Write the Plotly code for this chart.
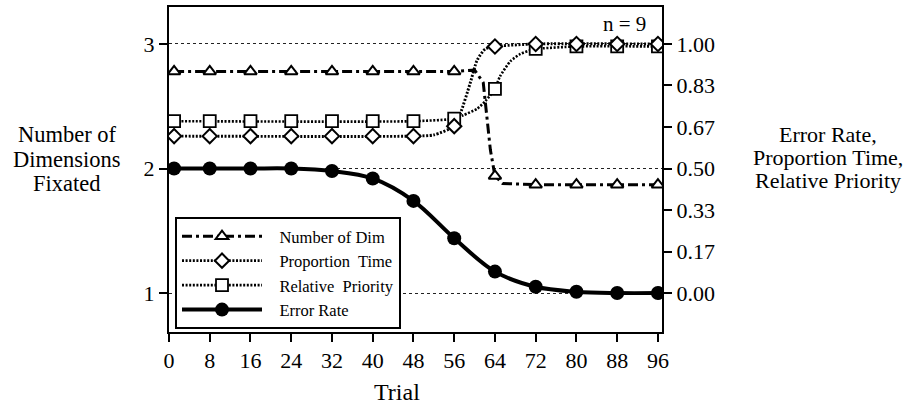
import plotly.graph_objects as go

# ---- data ----
trials = [1, 8, 16, 24, 32, 40, 48, 56, 64, 72, 80, 88, 96]
num_dim = [2.78, 2.78, 2.78, 2.78, 2.78, 2.78, 2.78, 2.78, 1.94, 1.87, 1.87, 1.87, 1.87]
prop_time = [0.63, 0.63, 0.63, 0.63, 0.63, 0.63, 0.63, 0.67, 0.99, 1.00, 1.00, 1.00, 1.00]
rel_priority = [0.69, 0.69, 0.69, 0.69, 0.69, 0.69, 0.69, 0.70, 0.82, 0.98, 0.99, 0.99, 0.99]
error_rate = [0.50, 0.50, 0.50, 0.50, 0.49, 0.46, 0.37, 0.22, 0.086, 0.025, 0.005, 0.0, 0.0]

# fitted curves as drawn in the reference
num_dim_curve_x = [1, 56, 60, 61.7, 63.1, 64, 65.5, 72, 96]
num_dim_curve_y = [2.78, 2.78, 2.79, 2.69, 2.15, 1.94, 1.88, 1.87, 1.87]
prop_curve_x = [1, 48, 52, 56, 57.2, 59.1, 60.5, 62.1, 64, 72, 96]
prop_curve_y = [0.63, 0.63, 0.635, 0.67, 0.72, 0.84, 0.935, 0.98, 0.99, 1.0, 1.0]
rel_curve_x = [1, 48, 56, 57.8, 60.5, 62.1, 64, 65, 67, 69, 71, 72, 80, 96]
rel_curve_y = [0.69, 0.69, 0.70, 0.714, 0.74, 0.77, 0.82, 0.87, 0.93, 0.96, 0.975, 0.98, 0.99, 0.99]

x_ticks = [0, 8, 16, 24, 32, 40, 48, 56, 64, 72, 80, 88, 96]
left_ticks = [1, 2, 3]
right_tickvals = [0, 1/6, 2/6, 3/6, 4/6, 5/6, 1]
right_ticktext = ["0.00", "0.17", "0.33", "0.50", "0.67", "0.83", "1.00"]

series_names = ["Number of Dim", "Proportion  Time", "Relative  Priority", "Error Rate"]
left_title_lines = ["Number of", "Dimensions", "Fixated"]
right_title_lines = ["Error Rate,", "Proportion Time,", "Relative Priority"]
x_title = "Trial"
n_label = "n = 9"

FONT = "Liberation Serif, Times New Roman, serif"
W, H = 909, 412
L, R, T, B = 169, 247, 7, 80
PW, PH = W - L - R, H - T - B

YL = [0.687, 3.297]
YR = [(YL[0] - 1) / 2, (YL[1] - 1) / 2]


def px(xp):
    return (xp - L) / PW


def py(yp):
    return (H - B - yp) / PH


fig = go.Figure()

dashdot = "10px,4px,3px,4px"
dots = "2px,1.6px"

# curves (lines)
fig.add_trace(go.Scatter(x=rel_curve_x, y=rel_curve_y, yaxis="y2", mode="lines",
                         line=dict(color="black", width=2.6, dash=dots, shape="spline", smoothing=0.6),
                         showlegend=False, hoverinfo="skip"))
fig.add_trace(go.Scatter(x=prop_curve_x, y=prop_curve_y, yaxis="y2", mode="lines",
                         line=dict(color="black", width=2.9, dash=dots, shape="spline", smoothing=0.6),
                         showlegend=False, hoverinfo="skip"))
fig.add_trace(go.Scatter(x=num_dim_curve_x, y=num_dim_curve_y, mode="lines",
                         line=dict(color="black", width=3.0, dash=dashdot),
                         showlegend=False, hoverinfo="skip"))
fig.add_trace(go.Scatter(x=trials, y=error_rate, yaxis="y2", mode="lines",
                         line=dict(color="black", width=4.0, shape="spline", smoothing=1.0),
                         showlegend=False, hoverinfo="skip"))

# markers
mk_tri = dict(symbol="triangle-up", size=11, color="white", line=dict(color="black", width=2))
mk_dia = dict(symbol="diamond", size=11, color="white", line=dict(color="black", width=2))
mk_sq = dict(symbol="square", size=12, color="white", line=dict(color="black", width=1.8))
mk_ci = dict(symbol="circle", size=14, color="black", line=dict(color="black", width=0))

fig.add_trace(go.Scatter(x=trials, y=rel_priority, yaxis="y2", mode="markers", marker=mk_sq,
                         showlegend=False))
fig.add_trace(go.Scatter(x=trials, y=prop_time, yaxis="y2", mode="markers", marker=mk_dia,
                         showlegend=False))
fig.add_trace(go.Scatter(x=trials, y=num_dim, mode="markers", marker=mk_tri, showlegend=False))
fig.add_trace(go.Scatter(x=trials, y=error_rate, yaxis="y2", mode="markers", marker=mk_ci,
                         showlegend=False))

# legend entries
leg_styles = [
    (dict(color="black", width=3.0, dash=dashdot), mk_tri),
    (dict(color="black", width=2.9, dash=dots), mk_dia),
    (dict(color="black", width=2.6, dash=dots), mk_sq),
    (dict(color="black", width=4.0), mk_ci),
]
pad = "\u00a0\u00a0\u00a0"
for name, (ln, mk) in zip(series_names, leg_styles):
    fig.add_trace(go.Scatter(x=[None], y=[None], mode="lines+markers", name=pad + name,
                             line=ln, marker=mk, showlegend=True))

annotations = []
for txt, yc in zip(left_title_lines, [134, 159, 183]):
    annotations.append(dict(x=px(67), y=py(yc), xref="paper", yref="paper", text=txt,
                            showarrow=False, xanchor="center", yanchor="middle",
                            font=dict(family=FONT, size=22.5, color="black")))
for txt, yc in zip(right_title_lines, [134, 157, 180]):
    annotations.append(dict(x=px(828), y=py(yc), xref="paper", yref="paper", text=txt,
                            showarrow=False, xanchor="center", yanchor="middle",
                            font=dict(family=FONT, size=22, color="black")))
annotations.append(dict(x=px(397), y=py(392), xref="paper", yref="paper", text=x_title,
                        showarrow=False, xanchor="center", yanchor="middle",
                        font=dict(family=FONT, size=24, color="black")))
annotations.append(dict(x=px(624), y=py(24), xref="paper", yref="paper", text=n_label,
                        showarrow=False, xanchor="center", yanchor="middle",
                        font=dict(family=FONT, size=21, color="black")))

fig.update_layout(
    width=W, height=H,
    margin=dict(l=L, r=R, t=T, b=B, autoexpand=False),
    paper_bgcolor="white", plot_bgcolor="white",
    font=dict(family=FONT, size=22, color="black"),
    showlegend=True,
    legend=dict(x=px(175), y=py(217), xanchor="left", yanchor="top",
                bgcolor="white", bordercolor="black", borderwidth=2,
                font=dict(family=FONT, size=16.5, color="black"),
                itemwidth=80, tracegroupgap=0),
    xaxis=dict(range=[0, 96.8], tickvals=x_ticks, ticks="outside", ticklen=8, tickwidth=1.8,
               tickcolor="black", showline=True, linecolor="black", linewidth=2, mirror=True,
               showgrid=False, zeroline=False, tickfont=dict(family=FONT, size=22)),
    yaxis=dict(range=YL, tickvals=left_ticks, ticks="outside", ticklen=8, tickwidth=1.8,
               tickcolor="black", showline=True, linecolor="black", linewidth=2, mirror=True,
               showgrid=True, gridcolor="#222", gridwidth=1, griddash="dot",
               zeroline=False, tickfont=dict(family=FONT, size=22)),
    yaxis2=dict(range=YR, overlaying="y", side="right", tickvals=right_tickvals,
                ticktext=right_ticktext, ticks="outside", ticklen=8, tickwidth=1.8,
                tickcolor="black", showline=True, linecolor="black", linewidth=2,
                showgrid=False, zeroline=False, tickfont=dict(family=FONT, size=22)),
    annotations=annotations,
)

fig.write_html("out.html")
